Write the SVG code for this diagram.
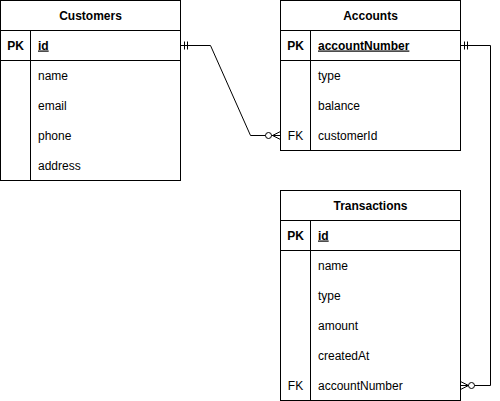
<svg xmlns="http://www.w3.org/2000/svg" width="500" height="401" viewBox="0 0 500 401">
<style>
.box{fill:#fff;stroke:#000;stroke-width:1}
.ln{fill:none;stroke:#000;stroke-width:1}
text{font-family:"Liberation Sans",Arial,Helvetica,sans-serif;font-size:12px;fill:#000}
.h{font-weight:bold;text-anchor:middle}
.k{text-anchor:middle}
.pk{font-weight:bold;text-anchor:middle}
.pf{font-weight:bold;text-decoration:underline}
</style>
<rect width="500" height="401" fill="#fff"/>
<g id="customers">
<rect class="box" x="0.5" y="0.5" width="180" height="180"/>
<path class="ln" d="M0.5 30.5H180.5M0.5 60.5H180.5M30.5 30.5V180.5"/>
<text class="h" x="90.5" y="19.5">Customers</text>
<text class="pk" x="15.5" y="49.5">PK</text>
<text class="pf" x="38" y="49.5">id</text>
<text x="38" y="79.5">name</text>
<text x="38" y="109.5">email</text>
<text x="38" y="139.5">phone</text>
<text x="38" y="169.5">address</text>
</g>
<g id="accounts">
<rect class="box" x="280.5" y="0.5" width="180" height="150"/>
<path class="ln" d="M280.5 30.5H460.5M280.5 60.5H460.5M310.5 30.5V150.5"/>
<text class="h" x="370.5" y="19.5">Accounts</text>
<text class="pk" x="295.5" y="49.5">PK</text>
<text class="pf" x="318" y="49.5">accountNumber</text>
<text x="318" y="79.5">type</text>
<text x="318" y="109.5">balance</text>
<text class="k" x="295.5" y="139.5">FK</text>
<text x="318" y="139.5">customerId</text>
</g>
<g id="transactions">
<rect class="box" x="280.5" y="190.5" width="180" height="210"/>
<path class="ln" d="M280.5 220.5H460.5M280.5 250.5H460.5M310.5 220.5V400.5"/>
<text class="h" x="370.5" y="209.5">Transactions</text>
<text class="pk" x="295.5" y="239.5">PK</text>
<text class="pf" x="318" y="239.5">id</text>
<text x="318" y="269.5">name</text>
<text x="318" y="299.5">type</text>
<text x="318" y="329.5">amount</text>
<text x="318" y="359.5">createdAt</text>
<text class="k" x="295.5" y="389.5">FK</text>
<text x="318" y="389.5">accountNumber</text>
</g>
<g id="connectors">
<path class="ln" d="M180.5 45.5H210.5L250.5 135.5H265.5"/>
<path class="ln" d="M184.5 41.5V49.5M187.5 41.5V49.5"/>
<circle class="ln" cx="268.5" cy="135.5" r="3"/>
<path class="ln" d="M280.5 135.5H271.5M272.5 135.5L280.5 131.5M272.5 135.5L280.5 139.5"/>
<path class="ln" d="M460.5 45.5H490.5V385.5H474.5"/>
<path class="ln" d="M464.5 41.5V49.5M467.5 41.5V49.5"/>
<circle class="ln" cx="471.5" cy="385.5" r="3"/>
<path class="ln" d="M460.5 385.5H468.5M468.5 385.5L460.5 381.5M468.5 385.5L460.5 389.5"/>
</g>
</svg>
